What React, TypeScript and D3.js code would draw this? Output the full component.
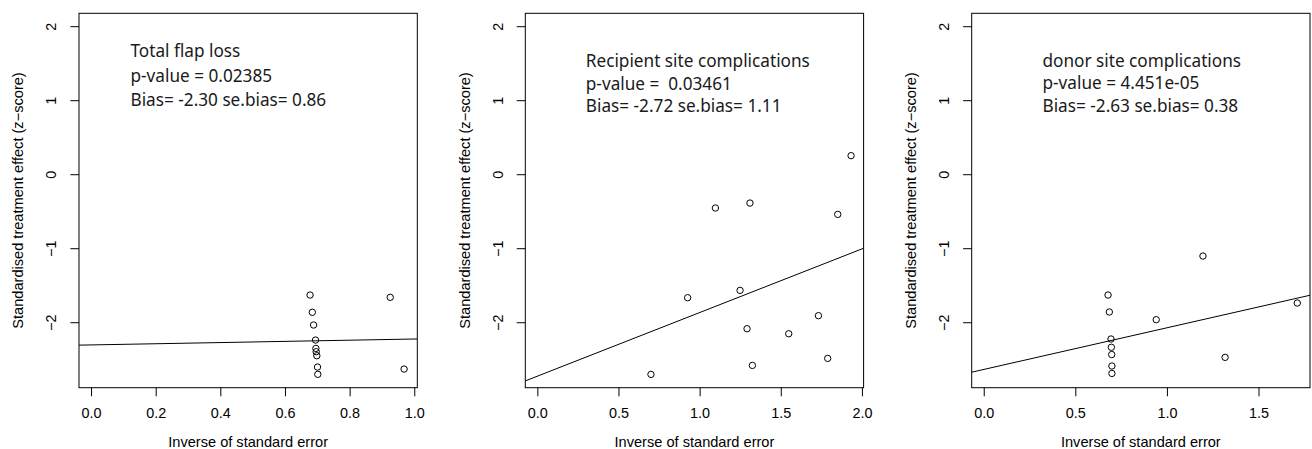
import React from "react";
import * as d3 from "d3";

// ---- data ----
const titles = ["Total flap loss", "Recipient site complications", "donor site complications"];
const pValues = ["p-value = 0.02385", "p-value =  0.03461", "p-value = 4.451e-05"];
const biasTexts = ["Bias= -2.30 se.bias= 0.86", "Bias= -2.72 se.bias= 1.11", "Bias= -2.63 se.bias= 0.38"];

const p1x = [0.676, 0.683, 0.687, 0.693, 0.694, 0.695, 0.697, 0.699, 0.700, 0.924, 0.967];
const p1y = [-1.626, -1.859, -2.031, -2.234, -2.347, -2.392, -2.446, -2.599, -2.697, -1.657, -2.626];

const p2x = [0.697, 0.923, 1.094, 1.246, 1.289, 1.307, 1.322, 1.546, 1.729, 1.786, 1.848, 1.930];
const p2y = [-2.698, -1.662, -0.450, -1.563, -2.081, -0.383, -2.577, -2.149, -1.905, -2.482, -0.536, 0.257];

const p3x = [0.676, 0.683, 0.692, 0.694, 0.696, 0.697, 0.697, 0.939, 1.194, 1.315, 1.709];
const p3y = [-1.626, -1.855, -2.220, -2.332, -2.430, -2.585, -2.685, -1.959, -1.099, -2.468, -1.734];

const intercepts = [-2.30, -2.72, -2.63];
const slopes = [0.08, 0.86, 0.563];

const xDomains: [number, number][] = [[-0.0388, 1.0078], [-0.0772, 2.0072], [-0.0684, 1.7784]];
const xTicks = [[0, 0.2, 0.4, 0.6, 0.8, 1.0], [0, 0.5, 1.0, 1.5, 2.0], [0, 0.5, 1.0, 1.5]];
const yDomain: [number, number] = [-2.878, 2.181];
const yTicks = [-2, -1, 0, 1, 2];

const xTitle = "Inverse of standard error";
const yTitle = "Standardised treatment effect (z\u2212score)";

const annoX = [130.5, 585.8, 1042.5];
const annoY = [[57.3, 81.7, 106], [67.3, 89.7, 111.7], [66.7, 89.3, 111.7]];

const W = 1312, H = 449;
const panelLeft = [79, 525.3, 971.7];
const plotW = 338.3;
const top = 13.3, bottom = 387.7;
const axisFont = "'Liberation Sans', Arial, Helvetica, sans-serif";
const annoFont = "'Noto Sans', sans-serif";

function fmtY(v: number) {
  return v < 0 ? "\u2212" + Math.abs(v) : String(v);
}

function Panel({ i }: { i: number }) {
  const xs = [p1x, p2x, p3x][i];
  const ys = [p1y, p2y, p3y][i];
  const left = panelLeft[i];
  const right = left + plotW;
  const x = d3.scaleLinear().domain(xDomains[i]).range([left, right]);
  const y = d3.scaleLinear().domain(yDomain).range([bottom, top]);
  const [x0, x1] = xDomains[i];
  const clipId = `clip${i}`;
  const linePath = d3.line<number>()
    .x((d) => x(d))
    .y((d) => y(intercepts[i] + slopes[i] * d))([x0, x1]) || "";
  const fmtX = d3.format(".1f");
  return (
    <g>
      <defs>
        <clipPath id={clipId}>
          <rect x={left} y={top} width={plotW} height={bottom - top} />
        </clipPath>
      </defs>
      <rect x={left} y={top} width={plotW} height={bottom - top} fill="none" stroke="#000" strokeWidth={1} />
      {/* x axis */}
      {xTicks[i].map((t) => (
        <g key={"xt" + t}>
          <line x1={x(t)} x2={x(t)} y1={bottom} y2={bottom + 8.6} stroke="#000" strokeWidth={1} />
          <text x={x(t)} y={bottom + 30} textAnchor="middle" fontFamily={axisFont} fontSize={14.4} fill="#000">
            {fmtX(t)}
          </text>
        </g>
      ))}
      {/* y axis */}
      {yTicks.map((t) => (
        <g key={"yt" + t}>
          <line x1={left - 8.6} x2={left} y1={y(t)} y2={y(t)} stroke="#000" strokeWidth={1} />
          <text
            transform={`translate(${left - 22.8},${y(t)}) rotate(-90)`}
            textAnchor="middle"
            fontFamily={axisFont}
            fontSize={14.4}
            fill="#000"
          >
            {fmtY(t)}
          </text>
        </g>
      ))}
      <text x={left + plotW / 2} y={bottom + 58.8} textAnchor="middle" fontFamily={axisFont} fontSize={14.6} fill="#000">
        {xTitle}
      </text>
      <text
        transform={`translate(${left - 55.8},${(top + bottom) / 2}) rotate(-90)`}
        textAnchor="middle"
        fontFamily={axisFont}
        fontSize={14.6}
        fill="#000"
      >
        {yTitle}
      </text>
      {/* regression line */}
      <path d={linePath} stroke="#000" strokeWidth={1} fill="none" clipPath={`url(#${clipId})`} />
      {/* points */}
      {xs.map((xv, k) => (
        <circle key={k} cx={x(xv)} cy={y(ys[k])} r={3.2} fill="none" stroke="#000" strokeWidth={1} />
      ))}
      {/* annotations */}
      {[titles[i], pValues[i], biasTexts[i]].map((s, k) => (
        <text
          key={"a" + k}
          x={annoX[i]}
          y={annoY[i][k]}
          fontFamily={annoFont}
          fontSize={17.2}
          fill="#1a1a1a"
          style={{ whiteSpace: "pre" }}
        >
          {s}
        </text>
      ))}
    </g>
  );
}

export default function App() {
  return (
    <svg
      width={W}
      height={H}
      viewBox={`0 0 ${W} ${H}`}
      style={{ position: "absolute", left: 0, top: 0, background: "#fff" }}
    >
      <rect x={0} y={0} width={W} height={H} fill="#fff" />
      {[0, 1, 2].map((i) => (
        <Panel key={i} i={i} />
      ))}
    </svg>
  );
}
